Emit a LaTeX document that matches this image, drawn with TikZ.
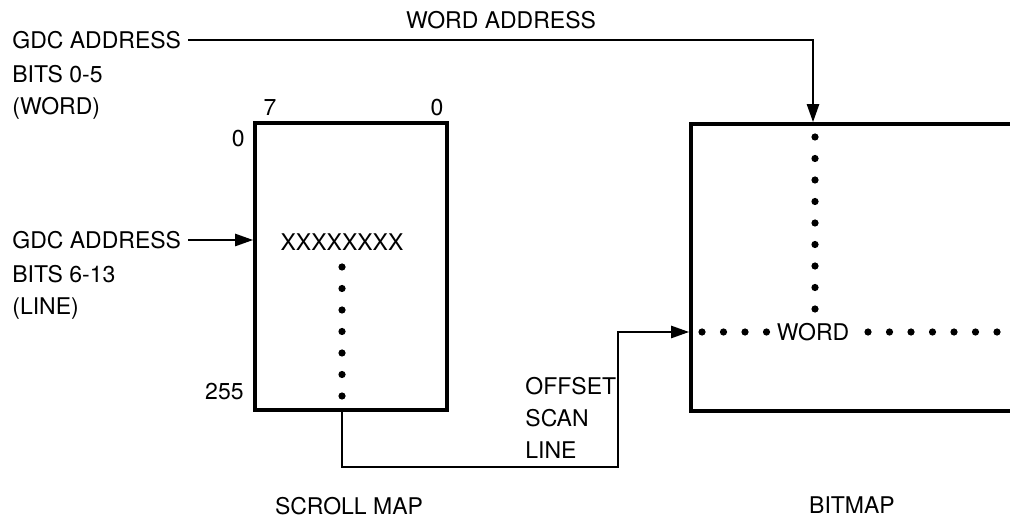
\documentclass[tikz,border=0pt]{standalone}
\usepackage{fontspec}
\setmainfont{TeX Gyre Heros}
\usetikzlibrary{positioning,arrows.meta}

\begin{document}
\begin{tikzpicture}[x=0.5pt,y=-0.5pt,
  every node/.style={font=\fontsize{11.5}{16}\selectfont,inner sep=0pt},
  txt/.style={align=left},
  mapbox/.style={draw,line width=1.8pt,minimum width=96pt,minimum height=143.5pt},
  wire/.style={line width=1.2pt},
  feed/.style={wire,-{Triangle[length=9pt,width=6pt]}},
  dotline/.style={line width=3.6pt,line cap=round,dash pattern=on 0pt off 10.75pt}]

  \useasboundingbox (0,0) rectangle (1010,517);

  % the two memories
  \node[mapbox] (scroll) at (351,266.5) {};
  \node[mapbox,minimum width=180pt] (bitmap) at (871,267.5) {};

  % scroll map bit / line numbers
  \node (bit7) at (270,108) {7};
  \node (bit0) at (437,108) {0};
  \node[anchor=east] (line0) at (245,139) {0};
  \node[anchor=east] (line255) at (244,392) {255};
  \node (xline) at (342,242) {XXXXXXXX};

  % address inputs
  \node[anchor=west] (wordsrc) at (12,40) {GDC ADDRESS};
  \node[txt,below right=7.75pt and 0pt of wordsrc.south west] (wordsub) {BITS 0-5\\(WORD)};
  \node[anchor=west] (linesrc) at (12,240) {GDC ADDRESS};
  \node[txt,below right=7.75pt and 0pt of linesrc.south west] (linesub) {BITS 6-13\\(LINE)};

  \node (wordaddr) at (501,20) {WORD ADDRESS};
  \node[txt,anchor=north west] (offset) at (525,377) {OFFSET\\SCAN\\LINE};
  \node (word) at (813,332) {WORD};

  \node (scrollcap) at (349,506) {SCROLL MAP};
  \node (bitmapcap) at (852,505) {BITMAP};

  % dotted runs (ends pushed a little past the last dot)
  \draw[dotline] (342,267) -- (342,398);
  \draw[dotline] (815,137) -- (815,311);
  \draw[dotline] (702,332) -- (768,332);
  \draw[dotline] (868,332) -- (999,332);

  \coordinate (jog) at (618,467);

  % wiring
  \draw[feed,shorten <=3.5pt] (wordsrc) -| (word |- bitmap.north);
  \draw[feed,shorten <=3.5pt] (linesrc) -- (linesrc -| scroll.west);
  \draw[feed] (xline |- scroll.south) |- (jog) |- (bitmap.west |- word);

\end{tikzpicture}
\end{document}
